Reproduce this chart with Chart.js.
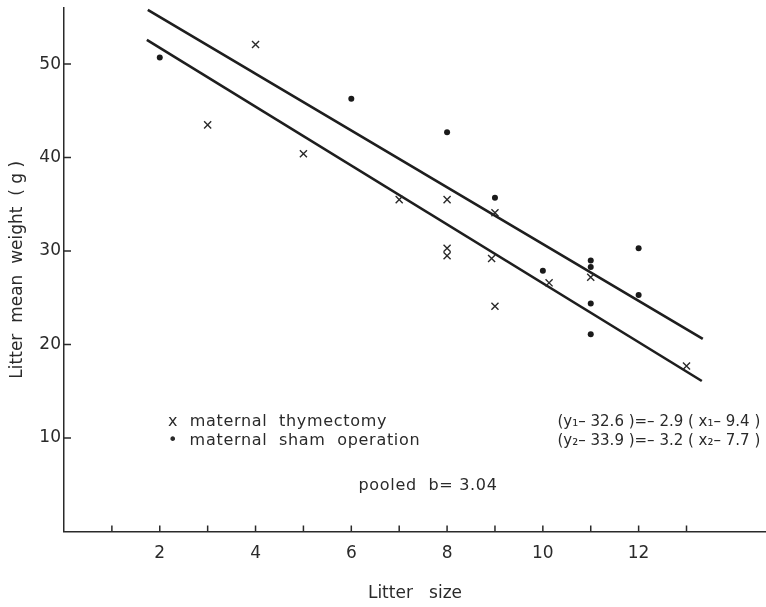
<!DOCTYPE html>
<html>
<head>
<meta charset="utf-8">
<script src="https://cdn.jsdelivr.net/npm/chart.js@4.4.1/dist/chart.umd.min.js"></script>
<style>
  body { margin: 0; background: #fff; }
  #wrap { width: 766px; height: 607px; position: relative; }
</style>
</head>
<body>
<div id="wrap"><canvas id="litterChart"></canvas></div>
<script>
// Data
const thymX = [4, 3, 5, 7, 8, 8, 8, 9, 8.93, 9, 10.13, 11, 13];
const thymY = [52.1, 43.5, 40.4, 35.5, 35.5, 30.3, 29.5, 34.1, 29.2, 24.1, 26.6, 27.2, 17.7];

const shamX = [2, 6, 8, 9, 10, 11, 11, 11, 11, 12, 12];
const shamY = [50.7, 46.3, 42.7, 35.7, 27.9, 29.0, 28.3, 24.4, 21.1, 30.3, 25.3];

// regression lines (end points as drawn)
const upperLineX = [1.75, 13.34];
const upperLineY = [55.8, 20.6];
const lowerLineX = [1.73, 13.32];
const lowerLineY = [52.6, 16.1];

const xTickLabels = [2, 4, 6, 8, 10, 12];
const xTickMarks = [1, 2, 3, 4, 5, 6, 7, 8, 9, 10, 11, 12, 13];
const yTickLabels = [10, 20, 30, 40, 50];

const ink = "#2a2a2a";
const fontFamily = "'DejaVu Sans', sans-serif";

function toPoints(xs, ys) {
  return xs.map((x, i) => ({ x: x, y: ys[i] }));
}

// Inward tick marks and the text notes on the plot
const figureExtras = {
  id: "figureExtras",
  afterDraw(chart) {
    const ctx = chart.ctx;
    const xs = chart.scales.x;
    const ys = chart.scales.y;
    const axisY = ys.getPixelForValue(0);
    const axisX = xs.getPixelForValue(0);

    ctx.save();
    ctx.strokeStyle = ink;
    ctx.lineWidth = 1.5;
    ctx.beginPath();
    xTickMarks.forEach((v) => {
      const px = xs.getPixelForValue(v);
      ctx.moveTo(px, axisY);
      ctx.lineTo(px, axisY - 6);
    });
    yTickLabels.forEach((v) => {
      const py = ys.getPixelForValue(v);
      ctx.moveTo(axisX, py);
      ctx.lineTo(axisX + 7, py);
    });
    ctx.stroke();

    ctx.fillStyle = ink;
    ctx.font = "16px " + fontFamily;
    ctx.letterSpacing = "0.7px";
    ctx.textBaseline = "alphabetic";

    ctx.textAlign = "left";
    ctx.fillText("x  maternal  thymectomy", xs.getPixelForValue(2.17), ys.getPixelForValue(11.28));
    ctx.fillText("•  maternal  sham  operation", xs.getPixelForValue(2.17), ys.getPixelForValue(9.25));
    ctx.fillText("pooled  b= 3.04", xs.getPixelForValue(6.15), ys.getPixelForValue(4.44));

    ctx.font = "15px " + fontFamily;
    ctx.letterSpacing = "0px";
    ctx.textAlign = "right";
    ctx.fillText("(y\u2081\u2013 32.6 )=\u2013 2.9 ( x\u2081\u2013 9.4 )", xs.getPixelForValue(14.54), ys.getPixelForValue(11.28));
    ctx.fillText("(y\u2082\u2013 33.9 )=\u2013 3.2 ( x\u2082\u2013 7.7 )", xs.getPixelForValue(14.54), ys.getPixelForValue(9.25));
    ctx.restore();
  }
};

const ctx = document.getElementById("litterChart").getContext("2d");

new Chart(ctx, {
  type: "scatter",
  data: {
    datasets: [
      {
        label: "maternal thymectomy",
        data: toPoints(thymX, thymY),
        pointStyle: "crossRot",
        pointRadius: 5,
        borderWidth: 1.4,
        borderColor: ink,
        backgroundColor: ink
      },
      {
        label: "maternal sham operation",
        data: toPoints(shamX, shamY),
        pointStyle: "circle",
        pointRadius: 3,
        borderWidth: 0,
        backgroundColor: "#1a1a1a"
      },
      {
        type: "line",
        label: "upper",
        data: toPoints(upperLineX, upperLineY),
        borderColor: "#1e1e1e",
        borderWidth: 2.6,
        pointRadius: 0,
        fill: false
      },
      {
        type: "line",
        label: "lower",
        data: toPoints(lowerLineX, lowerLineY),
        borderColor: "#1e1e1e",
        borderWidth: 2.6,
        pointRadius: 0,
        fill: false
      }
    ]
  },
  options: {
    responsive: true,
    maintainAspectRatio: false,
    animation: false,
    layout: { autoPadding: false, padding: { top: 8, right: 0, left: 0, bottom: 0 } },
    plugins: {
      legend: { display: false },
      tooltip: { enabled: false }
    },
    scales: {
      x: {
        type: "linear",
        min: 0,
        max: 14.66,
        grid: { display: false, drawTicks: false, tickLength: 0 },
        border: { display: true, color: ink, width: 1.5 },
        afterBuildTicks: (scale) => {
          scale.ticks = xTickLabels.map((v) => ({ value: v }));
        },
        afterFit: (scale) => {
          scale.height = 75.5;
          scale.paddingLeft = 0;
          scale.paddingRight = 0;
        },
        ticks: {
          color: ink,
          padding: 12,
          maxRotation: 0,
          font: { family: fontFamily, size: 17 }
        },
        title: {
          display: true,
          text: "Litter   size",
          color: ink,
          font: { family: fontFamily, size: 17 },
          padding: { top: 0, bottom: 3 }
        }
      },
      y: {
        type: "linear",
        min: 0,
        max: 56,
        grid: { display: false, drawTicks: false, tickLength: 0 },
        border: { display: true, color: ink, width: 1.5 },
        afterBuildTicks: (scale) => {
          scale.ticks = yTickLabels.map((v) => ({ value: v }));
        },
        afterFit: (scale) => {
          scale.width = 64;
          scale.paddingTop = 0;
          scale.paddingBottom = 0;
        },
        ticks: {
          color: ink,
          padding: 3,
          font: { family: fontFamily, size: 17 }
        },
        title: {
          display: true,
          text: "Litter  mean  weight  ( g )",
          color: ink,
          font: { family: fontFamily, size: 17 },
          padding: { top: 7, bottom: 0 }
        }
      }
    }
  },
  plugins: [figureExtras]
});
</script>
</body>
</html>
